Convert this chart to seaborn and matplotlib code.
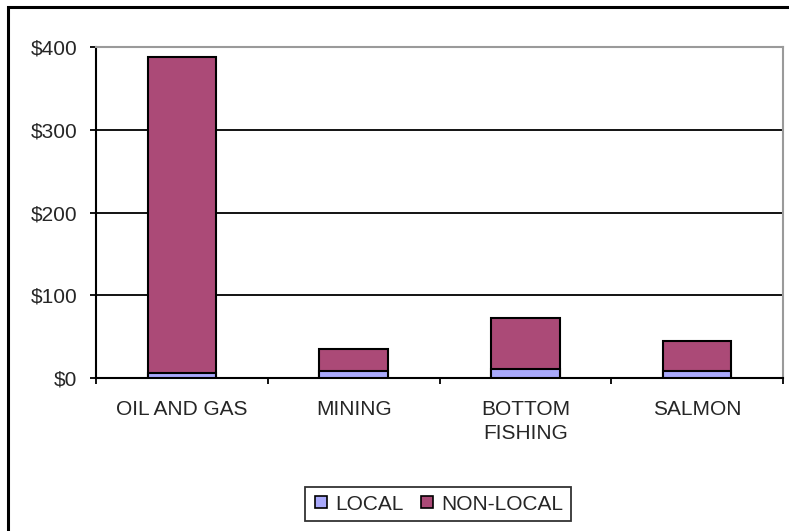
import numpy as np
import pandas as pd
import matplotlib
matplotlib.use("Agg")
import matplotlib.pyplot as plt
import seaborn as sns
from matplotlib.patches import Rectangle
from matplotlib.lines import Line2D

sns.set_theme(style='white')
plt.rcParams['font.family'] = ['Liberation Sans', 'DejaVu Sans']

categories = ["OIL AND GAS", "MINING", "BOTTOM\nFISHING", "SALMON"]
local = [6.5, 8.5, 11.0, 8.5]
non_local = [381.5, 27.0, 61.0, 36.5]
series_names = ["LOCAL", "NON-LOCAL"]

local_col = '#A9A9FB'
nonlocal_col = '#AB4A77'

df = pd.DataFrame({'category': categories, 'local': local, 'non_local': non_local})
df['total'] = df['local'] + df['non_local']

fig = plt.figure(figsize=(7.89, 5.31), dpi=100)
ax = fig.add_axes([96 / 789, 1 - 378 / 531, (783 - 96) / 789, (378 - 47) / 531])

sns.barplot(data=df, x='category', y='total', color=nonlocal_col, saturation=1,
            width=0.4, edgecolor='black', linewidth=1.5, ax=ax, zorder=3)
sns.barplot(data=df, x='category', y='local', color=local_col, saturation=1,
            width=0.4, edgecolor='black', linewidth=1.5, ax=ax, zorder=4)

ax.set_ylim(0, 400)
ax.set_xlim(-0.5, len(categories) - 0.5)
ax.set_yticks([0, 100, 200, 300, 400])
ax.set_yticklabels(['$0', '$100', '$200', '$300', '$400'])
ax.set_xlabel('')
ax.set_ylabel('')
for yv in [100, 200, 300]:
    ax.axhline(yv, color='black', lw=1.3, zorder=1)

# x ticks sit at category boundaries, labels at centers
ax.set_xticks(np.arange(len(categories)))
ax.set_xticklabels(categories, fontsize=15, linespacing=1.35)
ax.set_xticks(np.arange(len(categories) + 1) - 0.5, minor=True)
ax.tick_params(axis='x', which='major', length=0, pad=16)
ax.tick_params(axis='x', which='minor', direction='out', length=4.5, width=1.3, color='black', bottom=True)
ax.tick_params(axis='y', direction='out', length=4.5, width=1.3, color='black', pad=9, labelsize=15, left=True)

for sp in ['left', 'bottom']:
    ax.spines[sp].set_color('black')
    ax.spines[sp].set_linewidth(1.5)
for sp in ['top', 'right']:
    ax.spines[sp].set_color('#9A9A9A')
    ax.spines[sp].set_linewidth(1.5)

handles = [
    Line2D([0], [0], marker='s', color='none', markerfacecolor=local_col, markeredgecolor='black',
           markersize=8, markeredgewidth=1.2, label=series_names[0]),
    Line2D([0], [0], marker='s', color='none', markerfacecolor=nonlocal_col, markeredgecolor='black',
           markersize=8, markeredgewidth=1.2, label=series_names[1]),
]
leg = fig.legend(handles=handles, loc='center', bbox_to_anchor=(438 / 789, 1 - 504 / 531), ncol=2,
                 fontsize=15, frameon=True, fancybox=False, handlelength=0.8, handletextpad=0.3,
                 columnspacing=0.7, borderpad=0.35)
leg.get_frame().set_edgecolor('black')
leg.get_frame().set_linewidth(1.3)

# outer chart frame
fig.patches.append(Rectangle((8 / 789, -0.1), 1.2, 1 - 7 / 531 + 0.1, transform=fig.transFigure,
                             fill=False, edgecolor='black', linewidth=2.2))

fig.savefig('out.png', dpi=100)
